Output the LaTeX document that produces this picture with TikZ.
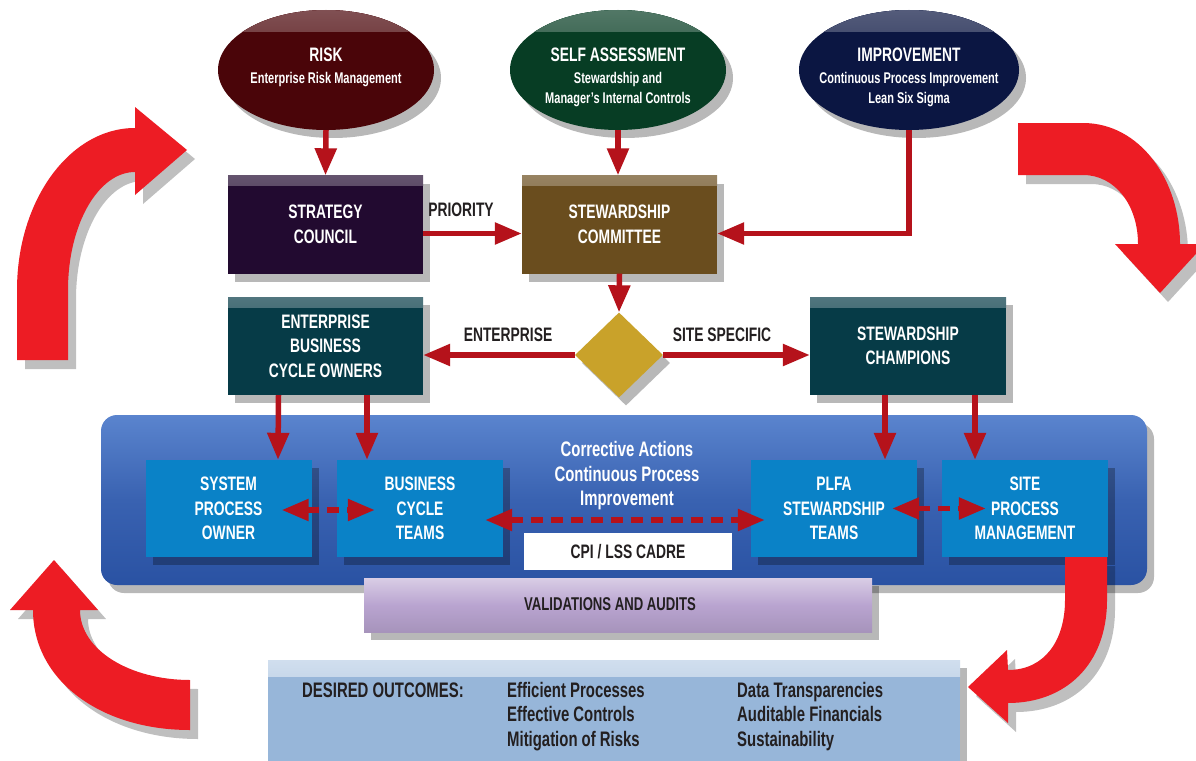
\documentclass[tikz,border=0pt]{standalone}
\usepackage{fontspec}
\setmainfont{Liberation Sans}[FakeStretch=0.71]
\usetikzlibrary{arrows.meta,shapes.geometric,shadows}
\definecolor{conred}{HTML}{B5121B}
\definecolor{bigred}{HTML}{ED1C24}
\definecolor{riskc}{HTML}{4A0509}
\definecolor{selfc}{HTML}{073D24}
\definecolor{impc}{HTML}{0B1642}
\definecolor{stratc}{HTML}{220A30}
\definecolor{commc}{HTML}{6A4D1E}
\definecolor{tealc}{HTML}{063B47}
\definecolor{goldc}{HTML}{C9A22A}
\definecolor{panelc}{HTML}{3962B1}
\definecolor{panelhi}{HTML}{5A84CE}
\definecolor{panello}{HTML}{2A52A3}
\definecolor{innerc}{HTML}{0A82C7}
\definecolor{lavc}{HTML}{B9A4D0}
\definecolor{outc}{HTML}{97B6D9}
\definecolor{darktext}{HTML}{231F20}
\tikzset{
  shad/.style={drop shadow={shadow xshift=7pt, shadow yshift=-8pt, opacity=0.28, fill=black}},
  bigfont/.style={font=\fontsize{19.5}{24.5}\selectfont\bfseries},
  subfont/.style={font=\fontsize{15.5}{20}\selectfont\bfseries},
  midfont/.style={font=\fontsize{21}{24.5}\selectfont\bfseries},
  oval/.style={ellipse, inner sep=0pt, minimum width=216pt, minimum height=120pt, shad,
    fill=#1, path picture={\fill[top color=#1!70!white, bottom color=#1]
      (path picture bounding box.north west) rectangle ([yshift=-22pt]path picture bounding box.north east);}},
  darkbox/.style={rectangle, inner sep=0pt, minimum width=195pt, minimum height=98pt, shad,
    fill=#1, text=white, align=center, bigfont,
    path picture={\fill[top color=#1!70!white, bottom color=#1]
      (path picture bounding box.north west) rectangle ([yshift=-10pt]path picture bounding box.north east);}},
  innerbox/.style={rectangle, fill=innerc, inner sep=0pt, minimum width=166pt, minimum height=97pt,
    text=white, align=center, bigfont, shad},
  conn/.style={draw=conred, line width=5.5pt, -{Triangle[length=27pt,width=21pt]}},
  dconn/.style={draw=conred, line width=5.5pt, dash pattern=on 12pt off 8pt,
    {Triangle[length=27pt,width=21pt]}-{Triangle[length=27pt,width=21pt]}},
  lbl/.style={text=darktext, bigfont, inner sep=0pt},
  bigarrow/.style={fill=bigred, drop shadow={shadow xshift=8pt, shadow yshift=-9pt, opacity=0.25, fill=black}}
}
\begin{document}
\begin{tikzpicture}[x=1pt,y=-1pt]
\useasboundingbox (0,0) rectangle (1196,760);
\clip (0,0) rectangle (1196,760);
\fill[white] (0,0) rectangle (1196,760);

% big red circulating arrows
\fill[bigarrow] (17,360) -- (17,290) .. controls (17,200) and (70,128) .. (135,128)
  -- (135,107) -- (187,150) -- (135,195) -- (135,172)
  .. controls (98,172) and (68,225) .. (68,290) -- (68,360) -- cycle;
\fill[bigarrow] (1018,123) -- (1083,123) .. controls (1140,123) and (1180,180) .. (1180,244)
  -- (1205,244) -- (1160,293) -- (1115,244) -- (1138,244)
  .. controls (1138,205) and (1115,175) .. (1083,175) -- (1018,175) -- cycle;
\fill[bigarrow] (54,560) -- (98,610) -- (80,610) .. controls (80,650) and (130,680) .. (190,680)
  -- (190,730) .. controls (100,730) and (33,680) .. (33,610) -- (10,610) -- cycle;

% top ellipses
\node[oval=riskc] (risk) at (326,70) {};
\node[oval=selfc] (self) at (618,70) {};
\node[oval=impc, minimum width=220pt] (imp) at (909,70) {};
\node[bigfont, text=white] (riskt) at (326,55) {RISK};
\node[subfont, text=white] (risks) at (326,80) {Enterprise Risk Management};
\node[bigfont, text=white] (selft) at (618,55) {SELF ASSESSMENT};
\node[subfont, text=white, align=center] (selfs) at (618,90) {Stewardship and\\Manager’s Internal Controls};
\node[bigfont, text=white] (impt) at (909,55) {IMPROVEMENT};
\node[subfont, text=white, align=center] (imps) at (909,90) {Continuous Process Improvement\\Lean Six Sigma};

% second row
\node[darkbox=stratc] (sc) at (325.5,224.5) {STRATEGY\\COUNCIL};
\node[darkbox=commc] (comm) at (619.5,224.5) {STEWARDSHIP\\COMMITTEE};

% diamond
\node[diamond, fill=goldc, inner sep=0pt, minimum width=88pt, minimum height=85pt, shad] (dia) at (619,355) {};

% third row
\node[darkbox=tealc] (ebco) at (325.5,346) {ENTERPRISE\\BUSINESS\\CYCLE OWNERS};
\node[darkbox=tealc, minimum width=196pt] (champ) at (908,346) {STEWARDSHIP\\CHAMPIONS};

% blue panel
\node[rectangle, rounded corners=16pt, minimum width=1046pt, minimum height=170pt,
  top color=panelhi, bottom color=panello, middle color=panelc, shad] (panel) at (624,500) {};
\node[midfont, text=white, align=center] (cpitext) at (627,476) {Corrective Actions\\Continuous Process\\Improvement};
\node[innerbox] (spo) at (228.5,508.5) {SYSTEM\\PROCESS\\OWNER};
\node[innerbox] (bct) at (420,508.5) {BUSINESS\\CYCLE\\TEAMS};
\node[innerbox] (plfa) at (834,508.5) {PLFA\\STEWARDSHIP\\TEAMS};
\node[innerbox] (spm) at (1025,508.5) {SITE\\PROCESS\\MANAGEMENT};
\node[rectangle, fill=white, minimum width=208pt, minimum height=37pt, inner sep=0pt,
  text=darktext, bigfont] (cadre) at (628,551.5) {CPI / LSS CADRE};

% bottom-right big arrow (emerging from the panel)
\fill[bigarrow] (1107,557) -- (1107,600) .. controls (1107,665) and (1065,703) .. (1008,703)
  -- (1008,723) -- (968,687) -- (1007,650) -- (1008,670)
  .. controls (1045,670) and (1065,640) .. (1065,600) -- (1065,557) -- cycle;

% validations and outcomes
\node[rectangle, top color=lavc!55!white, bottom color=lavc!90!black, middle color=lavc, minimum width=508pt, minimum height=54pt,
  inner sep=0pt, shad] (valid) at (618,605) {};
\node[text=darktext, font=\fontsize{18.5}{22}\selectfont\bfseries] (validt) at (610,604) {VALIDATIONS AND AUDITS};
\node[rectangle, fill=outc, minimum width=692pt, minimum height=110pt, inner sep=0pt, shad,
  path picture={\fill[top color=outc!45!white, bottom color=outc]
      (path picture bounding box.north west) rectangle ([yshift=-16pt]path picture bounding box.north east);}] (outbox) at (614,715) {};
\node[midfont, text=darktext, anchor=west, inner sep=0pt] (desired) at (302,690) {DESIRED OUTCOMES:};
\node[midfont, text=darktext, anchor=north west, align=left, inner sep=0pt] (col1) at (507,682)
  {Efficient Processes\\Effective Controls\\Mitigation of Risks};
\node[midfont, text=darktext, anchor=north west, align=left, inner sep=0pt] (col2) at (737,682)
  {Data Transparencies\\Auditable Financials\\Sustainability};

% connectors
\draw[conn] (risk.south) -- (sc.north);
\draw[conn] (self.south) -- (self.south |- comm.north);
\draw[conn] (imp.south) |- ([yshift=-9pt]comm.east);
\draw[conn] ([yshift=-9pt]sc.east) -- ([yshift=-9pt]comm.west);
\node[lbl] (prio) at (461,210) {PRIORITY};
\draw[conn] (comm.south) -- (dia.north);
\draw[conn] (dia.west) -- (dia.west -| ebco.east);
\draw[conn] (dia.east) -- (dia.east -| champ.west);
\node[lbl] (entl) at (508,335) {ENTERPRISE};
\node[lbl] (sitel) at (722,335) {SITE SPECIFIC};
\draw[conn] ([xshift=-47pt]ebco.south) -- ([xshift=49.5pt]spo.north);
\draw[conn] ([xshift=41.5pt]ebco.south) -- ([xshift=-53pt]bct.north);
\draw[conn] ([xshift=-23pt]champ.south) -- ([xshift=51pt]plfa.north);
\draw[conn] ([xshift=67pt]champ.south) -- ([xshift=-50pt]spm.north);
\draw[dconn] ([xshift=-30pt,yshift=-1.5pt]spo.east) -- ([xshift=38pt,yshift=-1.5pt]bct.west);
\draw[dconn] ([xshift=-18pt,yshift=-11.5pt]bct.east) -- ([xshift=14pt,yshift=-11.5pt]plfa.west);
\draw[dconn] ([xshift=-25pt]plfa.east) -- ([xshift=44pt]spm.west);
\end{tikzpicture}
\end{document}
